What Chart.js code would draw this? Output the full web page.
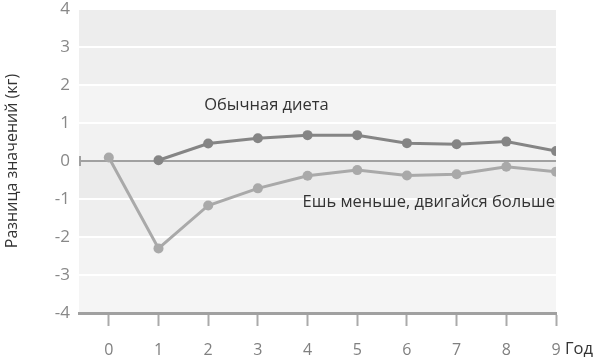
<!DOCTYPE html>
<html>
<head>
<meta charset="utf-8">
<script src="https://cdn.jsdelivr.net/npm/chart.js@4.4.0/dist/chart.umd.min.js"></script>
<style>
  html, body { margin: 0; padding: 0; background: #fff; }
  #wrap { width: 598px; height: 359px; }
</style>
</head>
<body>
<div id="wrap"><canvas id="weightChart"></canvas></div>
<script>
// годы наблюдения
const years = [0, 1, 2, 3, 4, 5, 6, 7, 8, 9];
// "Обычная диета" (начинается с 1-го года)
const usualDiet = [null, 0.02, 0.46, 0.6, 0.68, 0.68, 0.47, 0.44, 0.51, 0.26];
// "Ешь меньше, двигайся больше"
const eatLessMoveMore = [0.09, -2.3, -1.17, -0.72, -0.39, -0.24, -0.38, -0.35, -0.15, -0.28];
const yTicks = [-4, -3, -2, -1, 0, 1, 2, 3, 4];
// цвета полос фона сверху вниз
const bandColors = ['#ededed', '#efefef', '#f4f4f4', '#f2f2f2', '#ebebeb', '#eeeeee', '#f3f3f3', '#f5f5f5'];

const labelsFont = "'Open Sans', sans-serif";

const bandsPlugin = {
  id: 'bands',
  beforeDatasetsDraw(chart) {
    const { ctx, chartArea: a, scales: { x, y } } = chart;
    ctx.save();
    for (let i = 0; i < bandColors.length; i++) {
      const top = y.getPixelForValue(4 - i);
      const bottom = y.getPixelForValue(3 - i);
      ctx.fillStyle = bandColors[i];
      ctx.fillRect(a.left, top + 1, a.right - a.left, bottom - top - 2);
    }
    // нулевая линия
    const z = y.getPixelForValue(0);
    ctx.strokeStyle = '#a0a0a0';
    ctx.lineWidth = 2;
    ctx.beginPath();
    ctx.moveTo(a.left, z);
    ctx.lineTo(a.right, z);
    ctx.stroke();
    ctx.beginPath();
    ctx.moveTo(a.left + 1, z - 5);
    ctx.lineTo(a.left + 1, z + 5);
    ctx.stroke();
    ctx.restore();
  },
  afterDatasetsDraw(chart) {
    const { ctx, scales: { x, y } } = chart;
    ctx.save();
    ctx.font = "16.5px " + labelsFont;
    ctx.fillStyle = '#333';
    ctx.textBaseline = 'middle';
    ctx.textAlign = 'left';
    ctx.fillText('Обычная диета', x.getPixelForValue(1.92), y.getPixelForValue(1.47));
    ctx.fillText('Ешь меньше, двигайся больше', x.getPixelForValue(3.9), y.getPixelForValue(-1.08));
    ctx.fillText('Год', x.right + 9, 349);
    ctx.restore();
  }
};

function toPoints(values) {
  return years.map((yr, i) => ({ x: yr, y: values[i] }));
}

new Chart(document.getElementById('weightChart'), {
  type: 'line',
  data: {
    datasets: [
      {
        label: 'Обычная диета',
        data: toPoints(usualDiet),
        borderColor: '#858585',
        backgroundColor: '#858585',
        borderWidth: 3,
        pointRadius: 5,
        pointBorderWidth: 0,
        spanGaps: false
      },
      {
        label: 'Ешь меньше, двигайся больше',
        data: toPoints(eatLessMoveMore),
        borderColor: '#a9a9a9',
        backgroundColor: '#a9a9a9',
        borderWidth: 3,
        pointRadius: 5,
        pointBorderWidth: 0
      }
    ]
  },
  options: {
    responsive: true,
    maintainAspectRatio: false,
    animation: false,
    layout: { padding: { top: 9, right: 42, left: 0, bottom: 0 } },
    plugins: {
      legend: { display: false },
      tooltip: { enabled: false }
    },
    scales: {
      x: {
        type: 'linear',
        min: -0.6,
        max: 9,
        afterBuildTicks(scale) {
          scale.ticks = years.map(v => ({ value: v }));
        },
        afterFit(scale) { scale.height = 46; },
        grid: {
          drawOnChartArea: false,
          drawTicks: true,
          tickLength: 13,
          tickWidth: 2,
          tickColor: '#aaaaaa'
        },
        border: { display: true, color: '#a0a0a0', width: 3 },
        ticks: {
          color: '#808080',
          font: { family: labelsFont, size: 16 },
          padding: 15,
          maxRotation: 0
        }
      },
      y: {
        min: -4,
        max: 4,
        afterBuildTicks(scale) {
          scale.ticks = yTicks.map(v => ({ value: v }));
        },
        afterFit(scale) {
          scale.width = 79;
          scale.paddingTop = 0;
          scale.paddingBottom = 0;
        },
        grid: { display: false, drawTicks: false, tickLength: 0 },
        border: { display: false },
        ticks: {
          color: '#888',
          font: { family: labelsFont, size: 17 },
          padding: 9
        },
        title: {
          display: true,
          text: 'Разница значений (кг)',
          color: '#333',
          font: { family: labelsFont, size: 16 },
          padding: { top: 3, bottom: 0 }
        }
      }
    }
  },
  plugins: [bandsPlugin]
});
</script>
</body>
</html>
